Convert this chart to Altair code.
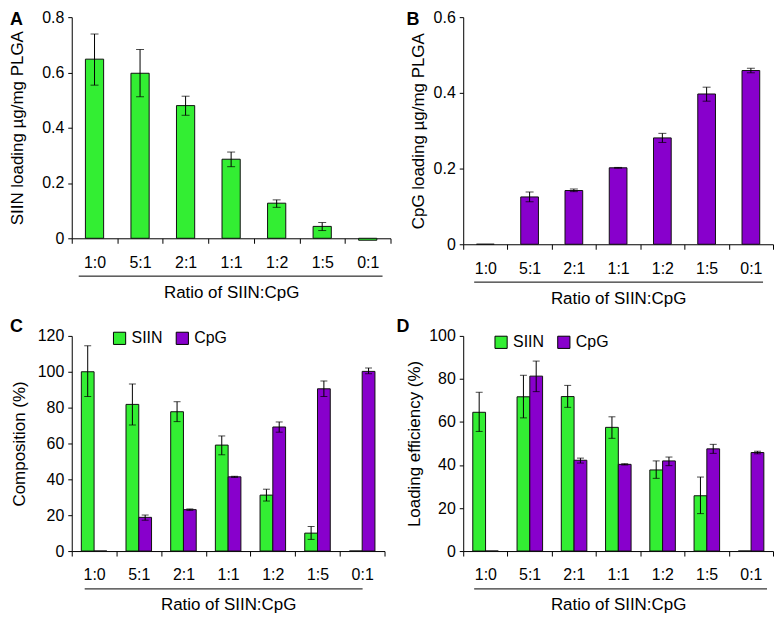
import altair as alt
import pandas as pd

FONT = "Liberation Sans"
GREEN = "#33ee33"
PURPLE = "#8800cc"
series_names = ["SIIN", "CpG"]

ratios = ["1:0", "5:1", "2:1", "1:1", "1:2", "1:5", "0:1"]

# Panel A: SIIN loading (ug/mg PLGA)
a_val = [0.648, 0.597, 0.480, 0.286, 0.127, 0.043, -0.007]
a_lo = [0.554, 0.512, 0.445, 0.259, 0.112, 0.028, -0.007]
a_hi = [0.739, 0.683, 0.514, 0.312, 0.139, 0.057, -0.007]

# Panel B: CpG loading (ug/mg PLGA)
b_val = [0.0, 0.125, 0.142, 0.202, 0.281, 0.397, 0.459]
b_lo = [0.0, 0.112, 0.139, 0.201, 0.269, 0.378, 0.453]
b_hi = [0.0, 0.138, 0.146, 0.203, 0.293, 0.415, 0.465]

# Panel C: Composition (%)
c_siin = [100.0, 81.8, 77.7, 59.1, 31.2, 10.0, 0.0]
c_siin_lo = [86.2, 70.3, 72.2, 53.7, 27.9, 6.5, 0.0]
c_siin_hi = [114.5, 93.2, 83.3, 64.2, 34.5, 13.7, 0.0]
c_cpg = [0.0, 18.8, 23.1, 41.4, 69.2, 90.5, 100.2]
c_cpg_lo = [0.0, 17.2, 22.7, 41.1, 66.3, 86.2, 98.9]
c_cpg_hi = [0.0, 20.1, 23.5, 41.7, 72.0, 94.9, 102.1]

# Panel D: Loading efficiency (%)
d_siin = [64.5, 71.7, 71.8, 57.5, 37.7, 25.7, 0.0]
d_siin_lo = [55.6, 61.9, 66.8, 52.4, 33.8, 17.4, 0.0]
d_siin_hi = [73.8, 81.7, 77.0, 62.4, 41.9, 34.4, 0.0]
d_cpg = [0.0, 81.3, 42.2, 40.3, 41.9, 47.5, 45.8]
d_cpg_lo = [0.0, 74.1, 40.9, 40.0, 39.7, 45.4, 45.2]
d_cpg_hi = [0.0, 88.3, 43.2, 40.6, 43.7, 49.6, 46.4]


def single_df(v, lo, hi):
    return pd.DataFrame({"ratio": ratios, "value": v, "lo": lo, "hi": hi})


def group_df(s, slo, shi, c, clo, chi):
    rows = []
    for i, r in enumerate(ratios):
        rows.append({"ratio": r, "series": "SIIN", "value": s[i], "lo": slo[i], "hi": shi[i]})
        rows.append({"ratio": r, "series": "CpG", "value": c[i], "lo": clo[i], "hi": chi[i]})
    return pd.DataFrame(rows)


def x_enc():
    return alt.X(
        "ratio:N",
        sort=ratios,
        scale=alt.Scale(domain=ratios, paddingInner=0, paddingOuter=0),
        axis=alt.Axis(
            title="Ratio of SIIN:CpG",
            labelAngle=0,
            tickBand="extent",
            tickSize=5,
            labelPadding=11,
            titlePadding=14,
        ),
    )


def y_enc(field, ydom, yvals, ytitle, tpad):
    return alt.Y(
        field + ":Q",
        scale=alt.Scale(domain=ydom, nice=False),
        axis=alt.Axis(
            values=yvals,
            format="~r",
            title=ytitle,
            tickSize=4,
            labelPadding=4,
            titlePadding=tpad,
        ),
    )


def decorations(h, letter, lx, ly, ux1, ux2):
    one = pd.DataFrame({"k": [0]})
    line = alt.Chart(one).mark_rule(color="black", strokeWidth=1).encode(
        x=alt.value(ux1), x2=alt.value(ux2), y=alt.value(h + 38)
    )
    txt = alt.Chart(one).mark_text(
        text=letter, font=FONT, fontSize=18, fontWeight="bold",
        align="left", baseline="top", color="black"
    ).encode(x=alt.value(lx), y=alt.value(ly))
    return [line, txt]


def single_panel(df, color, ydom, yvals, ytitle, tpad, w, h, letter, lx, ly, ux1, ux2, cap):
    base = alt.Chart(df)
    bars = base.mark_bar(
        width=alt.RelativeBandSize(0.4), fill=color, stroke="#111111", strokeWidth=1
    ).encode(x=x_enc(), y=y_enc("value", ydom, yvals, ytitle, tpad))
    err = base.transform_filter("datum.hi > datum.lo")
    rule = err.mark_rule(color="black", strokeWidth=1).encode(
        x=x_enc(), y=y_enc("lo", ydom, yvals, ytitle, tpad), y2="hi:Q"
    )
    t1 = err.mark_tick(color="black", size=cap, thickness=1).encode(
        x=x_enc(), y=y_enc("lo", ydom, yvals, ytitle, tpad)
    )
    t2 = err.mark_tick(color="black", size=cap, thickness=1).encode(
        x=x_enc(), y=y_enc("hi", ydom, yvals, ytitle, tpad)
    )
    return alt.layer(bars, rule, t1, t2, *decorations(h, letter, lx, ly, ux1, ux2)).properties(
        width=w, height=h
    )


def group_panel(df, ydom, yvals, ytitle, tpad, w, h, letter, lx, ly, ux1, ux2, legx, legy, cap):
    base = alt.Chart(df)
    xo = alt.XOffset(
        "series:N", sort=series_names,
        scale=alt.Scale(domain=series_names, paddingInner=0, paddingOuter=0.75),
    )
    color = alt.Color(
        "series:N",
        scale=alt.Scale(domain=series_names, range=[GREEN, PURPLE]),
        legend=alt.Legend(
            orient="none", legendX=legx, legendY=legy, direction="horizontal",
            title=None, symbolType="square", symbolSize=150,
            symbolStrokeColor="black", symbolStrokeWidth=1, symbolOpacity=1,
            labelFont=FONT, labelFontSize=16, labelColor="black",
            labelOffset=4, columnPadding=10, padding=0,
        ),
    )
    bars = base.mark_bar(stroke="#111111", strokeWidth=1, opacity=1).encode(
        x=x_enc(), xOffset=xo, y=y_enc("value", ydom, yvals, ytitle, tpad), color=color
    )
    err = base.transform_filter("datum.hi > datum.lo")
    rule = err.mark_rule(color="black", strokeWidth=1).encode(
        x=x_enc(), xOffset=xo, y=y_enc("lo", ydom, yvals, ytitle, tpad), y2="hi:Q"
    )
    t1 = err.mark_tick(color="black", size=cap, thickness=1).encode(
        x=x_enc(), xOffset=xo, y=y_enc("lo", ydom, yvals, ytitle, tpad)
    )
    t2 = err.mark_tick(color="black", size=cap, thickness=1).encode(
        x=x_enc(), xOffset=xo, y=y_enc("hi", ydom, yvals, ytitle, tpad)
    )
    return alt.layer(bars, rule, t1, t2, *decorations(h, letter, lx, ly, ux1, ux2)).properties(
        width=w, height=h
    )


panel_a = single_panel(
    single_df(a_val, a_lo, a_hi), GREEN, [0, 0.8], [0, 0.2, 0.4, 0.6, 0.8],
    "SIIN loading µg/mg PLGA", 15, 320, 222, "A", -62, -6, 7, 312, 8,
)
panel_b = single_panel(
    single_df(b_val, b_lo, b_hi), PURPLE, [0, 0.6], [0, 0.2, 0.4, 0.6],
    "CpG loading µg/mg PLGA", 6, 311, 228, "B", -57, -6, 11, 301, 8,
)
panel_c = group_panel(
    group_df(c_siin, c_siin_lo, c_siin_hi, c_cpg, c_cpg_lo, c_cpg_hi),
    [0, 120], [0, 20, 40, 60, 80, 100, 120], "Composition (%)", 9,
    314, 216, "C", -62, -18, 13, 292, 40, -6, 7,
)
panel_d = group_panel(
    group_df(d_siin, d_siin_lo, d_siin_hi, d_cpg, d_cpg_lo, d_cpg_hi),
    [0, 100], [0, 20, 40, 60, 80, 100], "Loading efficiency (%)", 5,
    311, 216, "D", -67, -18, 11, 305, 30, -2, 7,
)

top = alt.hconcat(panel_a, panel_b, spacing=73, bounds="flush")
bottom = alt.hconcat(panel_c, panel_d, spacing=79, bounds="flush").resolve_scale(color="independent")

chart = (
    alt.vconcat(top, bottom, spacing=12)
    .resolve_scale(color="independent")
    .properties(padding=0)
    .configure_view(stroke=None)
    .configure_axis(
        grid=False,
        domainColor="black",
        tickColor="black",
        labelColor="black",
        titleColor="black",
        domainWidth=1,
        tickWidth=1,
        labelFont=FONT,
        titleFont=FONT,
        labelFontSize=16,
        titleFontSize=17,
        titleFontWeight="normal",
    )
)

chart.save("out.html", embed_options={"renderer": "svg", "actions": False})
